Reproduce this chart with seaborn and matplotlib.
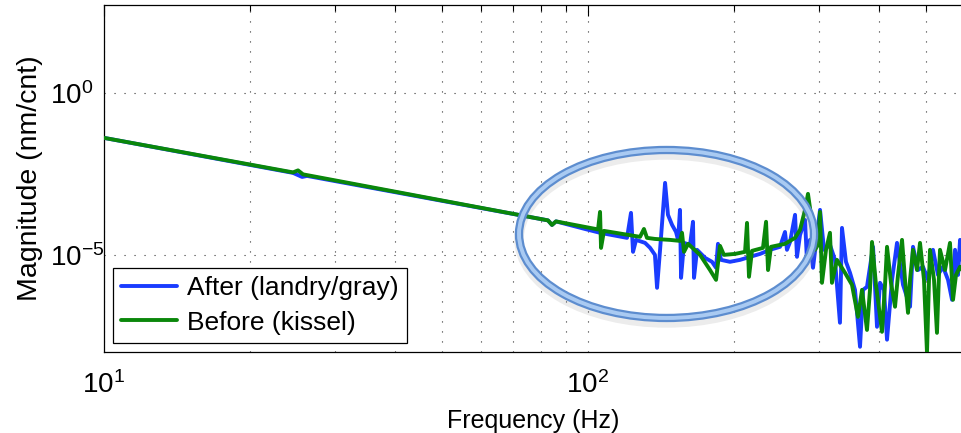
import matplotlib
matplotlib.use("Agg")
import matplotlib.pyplot as plt
import seaborn as sns
import pandas as pd
from matplotlib.patches import Ellipse
from matplotlib.lines import Line2D
from matplotlib.ticker import FixedLocator, NullFormatter, LogLocator

# ---------------- data ----------------
after_freq = [10.0, 24.58, 25.66, 26.28, 82.68, 84.26, 85.88, 98.58, 105.9,
              120.4, 122.7, 123.9, 125.7, 131.2, 134.4, 137.5, 138.9, 140.9,
              144.3, 146.3, 149.2, 152.0, 153.5, 154.9, 155.7, 157.9, 162.5,
              164.8, 165.6, 168.0, 174.5, 180.4, 183.9, 185.6, 188.3, 196.5,
              206.1, 216.2, 226.7, 237.7, 249.3, 255.3, 257.7, 261.5, 267.8,
              270.3, 274.2, 280.8, 283.5, 287.5, 291.7, 301.6, 307.4, 316.2,
              323.8, 331.6, 334.8, 341.2, 347.8, 356.2, 364.8, 370.1, 377.1,
              388.1, 395.5, 401.2, 408.9, 414.8, 424.8, 435.0, 447.6, 462.8,
              469.4, 480.7, 492.2, 504.1, 516.2, 528.6, 541.4, 554.5, 565.1,
              573.3, 581.5, 587.1, 592.6]
after_mag = [4.1e-2, 3.40e-3, 2.55e-3, 2.74e-3, 1.16e-4, 8.4e-5, 1.08e-4, 6.3e-5, 4.8e-5,
             3.35e-5, 1.98e-4, 1.24e-5, 2.9e-5, 2.34e-5, 1.64e-5, 1.0e-5, 9.6e-7, 1.43e-5,
             1.67e-3, 1.72e-4, 8.4e-5, 5.1e-5, 2.9e-5, 2.45e-4, 1.95e-6, 2.34e-5, 2.04e-5,
             1.05e-4, 1.95e-6, 1.43e-5, 8.1e-6, 6.1e-6, 4.0e-6, 2.19e-5, 7.0e-6, 6.1e-6,
             7.0e-6, 8.7e-6, 1.07e-5, 1.43e-5, 1.77e-5, 5.1e-5, 1.43e-5, 2.5e-5, 1.72e-4,
             8.7e-6, 4.1e-5, 1.20e-4, 6.1e-6, 2.9e-5, 4.0e-6, 2.45e-4, 1.43e-5, 2.04e-5,
             7.0e-6, 8.0e-8, 6.8e-5, 6.1e-6, 2.8e-6, 8.3e-7, 1.45e-8, 8.3e-7, 1.03e-6,
             1.77e-5, 6.0e-8, 1.37e-6, 8.3e-7, 2.4e-8, 1.69e-6, 2.34e-5, 1.19e-6, 2.5e-7,
             1.77e-5, 3.4e-6, 4.3e-6, 1.69e-6, 1.43e-5, 2.4e-6, 4.3e-6, 1.69e-6, 4.1e-7,
             1.43e-5, 2.4e-6, 2.9e-5, 7.0e-6]

before_freq = [10.0, 24.58, 25.17, 25.78, 82.68, 84.26, 85.88, 104.9, 105.9,
               106.4, 107.9, 128.1, 130.5, 132.4, 137.5, 147.7, 154.9, 156.4,
               157.9, 161.0, 170.4, 178.7, 183.9, 187.4, 190.9, 201.3, 211.1,
               213.1, 215.1, 218.2, 229.9, 233.3, 235.5, 238.8, 255.3, 267.8,
               274.2, 280.8, 284.8, 288.9, 294.4, 298.7, 301.6, 304.4, 310.3,
               316.2, 319.2, 326.9, 339.6, 351.1, 361.3, 368.3, 377.1, 382.5,
               386.2, 393.6, 405.0, 410.9, 414.8, 422.7, 430.9, 437.1, 445.5,
               451.9, 458.4, 462.8, 469.4, 478.4, 485.3, 494.6, 501.7, 506.5,
               508.9, 518.7, 526.1, 531.1, 533.7, 546.6, 559.7, 567.8, 575.9,
               587.1, 592.6]
before_mag = [4.1e-2, 3.52e-3, 4.06e-3, 3.06e-3, 1.16e-4, 8.4e-5, 1.08e-4, 6.1e-5, 2.12e-4,
              1.64e-5, 5.5e-5, 3.6e-5, 6.3e-5, 3.35e-5, 3.1e-5, 2.9e-5, 2.7e-5, 4.8e-5,
              1.24e-5, 2.19e-5, 1.0e-5, 3.4e-6, 1.69e-6, 1.90e-5, 1.0e-5, 1.07e-5, 1.24e-5,
              9.7e-5, 2.1e-6, 1.33e-5, 1.64e-5, 1.05e-4, 3.4e-6, 1.77e-5, 2.19e-5, 3.35e-5,
              5.9e-5, 2.45e-4, 7.64e-4, 1.72e-4, 1.43e-5, 2.04e-5, 2.12e-4, 1.37e-6, 1.43e-5,
              4.8e-5, 1.37e-6, 7.0e-6, 2.8e-6, 1.19e-6, 1.22e-7, 8.3e-7, 4.8e-8, 8.3e-7,
              2.5e-5, 1.19e-6, 4.2e-8, 1.19e-6, 1.77e-5, 1.37e-6, 2.5e-7, 2.4e-6, 2.9e-5,
              1.69e-6, 1.62e-7, 1.69e-6, 1.43e-5, 3.4e-6, 2.34e-5, 1.69e-6, 9.4e-9, 1.69e-6,
              1.43e-5, 1.69e-6, 3.9e-8, 2.4e-6, 1.43e-5, 3.4e-6, 2.34e-5, 4.1e-7, 2.4e-6,
              4.3e-6, 3.4e-6]

series_labels = ["After (landry/gray)", "Before (kissel)"]
series_colors = ["#1a3cff", "#0a870a"]
x_tick_values = [10, 100]
x_tick_labels = [r"$10^{1}$", r"$10^{2}$"]
y_tick_values = [1e-5, 1e0]
y_tick_labels = [r"$10^{-5}$", r"$10^{0}$"]
y_minor_values = [1e-8, 1e-7, 1e-6, 1e-4, 1e-3, 1e-2, 1e-1, 1e1, 1e2]
x_label = "Frequency (Hz)"
y_label = "Magnitude (nm/cnt)"

# ---------------- style ----------------
sns.set_style("white")
plt.rcParams["font.family"] = ["Liberation Sans", "DejaVu Sans"]
plt.rcParams["mathtext.fontset"] = "custom"
plt.rcParams["mathtext.rm"] = "Liberation Sans"
plt.rcParams["mathtext.it"] = "Liberation Sans:italic"
plt.rcParams["mathtext.bf"] = "Liberation Sans:bold"
plt.rcParams["mathtext.default"] = "regular"
plt.rcParams["text.color"] = "black"
plt.rcParams["axes.labelcolor"] = "black"
plt.rcParams["xtick.color"] = "black"
plt.rcParams["ytick.color"] = "black"

df = pd.concat([
    pd.DataFrame({"freq": after_freq, "mag": after_mag, "series": series_labels[0]}),
    pd.DataFrame({"freq": before_freq, "mag": before_mag, "series": series_labels[1]}),
], ignore_index=True)

fig = plt.figure(figsize=(9.62, 4.33), dpi=100)
ax = fig.add_axes([104 / 962, 81 / 433, 858 / 962, 347 / 433])
ax.set_xscale("log")
ax.set_yscale("log")

sns.lineplot(data=df, x="freq", y="mag", hue="series", hue_order=series_labels,
             palette=series_colors, sort=False, estimator=None, linewidth=2.8,
             solid_joinstyle="round", legend=False, ax=ax, zorder=3)

ax.set_xlim(10, 592.6)
ax.set_ylim(1e-8, 520)

ax.xaxis.set_major_locator(FixedLocator(x_tick_values))
ax.xaxis.set_minor_locator(LogLocator(base=10, subs=[2, 3, 4, 5, 6, 7, 8, 9], numticks=20))
ax.xaxis.set_minor_formatter(NullFormatter())
ax.set_xticklabels(x_tick_labels)
ax.yaxis.set_major_locator(FixedLocator(y_tick_values))
ax.yaxis.set_minor_locator(FixedLocator(y_minor_values))
ax.yaxis.set_minor_formatter(NullFormatter())
ax.set_yticklabels(y_tick_labels)

ax.tick_params(which="both", direction="in", top=True, right=False, colors="black")
ax.tick_params(which="major", length=8, width=0.8, labelsize=20)
ax.tick_params(axis="x", which="major", pad=14)
ax.tick_params(axis="y", which="major", pad=39)
ax.tick_params(which="minor", length=4, width=0.8)
for lab in ax.get_yticklabels():
    lab.set_horizontalalignment("left")

grid_style = dict(linestyle=(0, (1, 8)), color="#333333", linewidth=0.8)
ax.grid(which="both", axis="x", **grid_style)
ax.grid(which="major", axis="y", **grid_style)

for side in ["left", "top", "bottom"]:
    ax.spines[side].set_color("black")
    ax.spines[side].set_linewidth(0.9)
ax.spines["right"].set_visible(False)

ax.set_xlabel(x_label, fontsize=18, labelpad=7)
ax.set_ylabel(y_label, fontsize=20.5, labelpad=5)

handles = [Line2D([], [], color=c, linewidth=2.8) for c in series_colors]
leg = ax.legend(handles, series_labels, loc="lower left", bbox_to_anchor=(0.0105, 0.0259),
                borderaxespad=0, fontsize=19, frameon=True, fancybox=False,
                edgecolor="black", framealpha=1, handlelength=2.1, handletextpad=0.4,
                borderpad=0.32, labelspacing=0.4)
leg.get_frame().set_linewidth(0.9)
leg.set_zorder(10)

# highlight ellipse (annotation)
ecx, ecy, ew, eh = 0.6556, 0.3401, 0.3438, 0.4841
shadow = Ellipse((ecx, ecy - 0.014), ew, eh, transform=ax.transAxes, fill=False,
                 edgecolor="gray", linewidth=7, alpha=0.15, zorder=5, clip_on=False)
ring = Ellipse((ecx, ecy), ew, eh, transform=ax.transAxes, fill=False,
               edgecolor="#5d8dcf", linewidth=6.0, zorder=6, clip_on=False)
ring_hi = Ellipse((ecx, ecy), ew, eh, transform=ax.transAxes, fill=False,
                  edgecolor="#a9caf2", linewidth=2.8, zorder=7, clip_on=False)
for p in (shadow, ring, ring_hi):
    ax.add_patch(p)

fig.savefig("out.png", dpi=100)
